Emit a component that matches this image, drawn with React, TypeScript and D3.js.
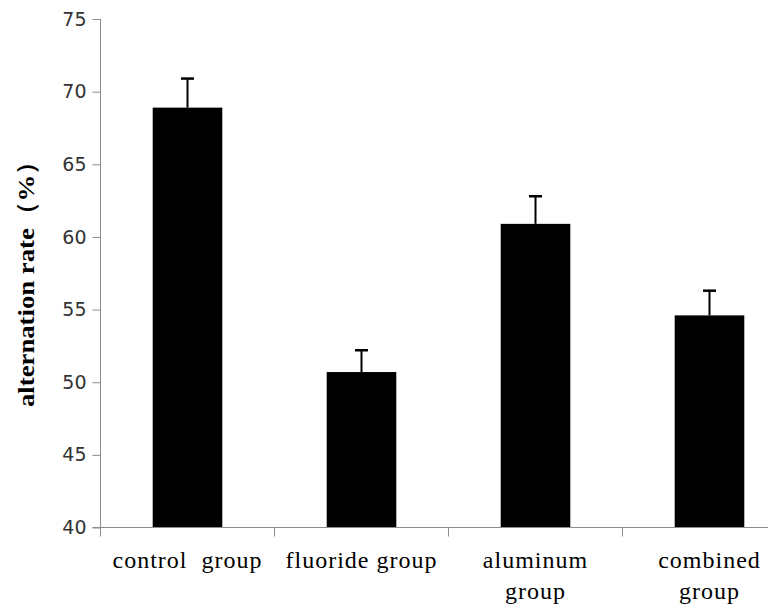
import React, { useEffect, useRef } from 'react';
import * as d3 from 'd3';

const categories = ['control group', 'fluoride group', 'aluminum group', 'combined group'];
const labelLines = [['control  group'], ['fluoride group'], ['aluminum', 'group'], ['combined', 'group']];
const means = [68.9, 50.7, 60.9, 54.6];
const errors = [2.0, 1.5, 1.9, 1.7];
const yTicks = [40, 45, 50, 55, 60, 65, 70, 75];

const App = () => {
    const ref = useRef<SVGSVGElement>(null);

    useEffect(() => {
        const svg = d3.select(ref.current);
        svg.selectAll('*').remove();

        const left = 100.5;
        const bottom = 527.5;
        const top = 19;
        const step = 174;

        const x = d3.scaleBand<string>()
            .domain(categories)
            .range([left, left + step * categories.length])
            .padding(0);

        const y = d3.scaleLinear()
            .domain([40, 75])
            .range([bottom, top]);

        const barW = x.bandwidth() * 0.4;
        const axisColor = '#8c8c8c';

        // Bars
        svg.selectAll('.bar')
            .data(categories)
            .enter()
            .append('rect')
            .attr('x', d => x(d)! + (x.bandwidth() - barW) / 2)
            .attr('y', (d, i) => y(means[i]))
            .attr('width', barW)
            .attr('height', (d, i) => bottom - y(means[i]))
            .attr('fill', '#000');

        // Error bars (upper only)
        categories.forEach((c, i) => {
            const cx = x(c)! + x.bandwidth() / 2;
            svg.append('line')
                .attr('x1', cx).attr('x2', cx)
                .attr('y1', y(means[i])).attr('y2', y(means[i] + errors[i]))
                .attr('stroke', '#000').attr('stroke-width', 2);
            svg.append('line')
                .attr('x1', cx - 6.5).attr('x2', cx + 6.5)
                .attr('y1', y(means[i] + errors[i])).attr('y2', y(means[i] + errors[i]))
                .attr('stroke', '#000').attr('stroke-width', 2.5);
        });

        // Y axis
        const yAxis = svg.append('g')
            .attr('transform', `translate(${left},0)`)
            .call(d3.axisLeft(y).tickValues(yTicks).tickSize(8).tickPadding(6).tickFormat(d3.format('d')));
        yAxis.select('.domain').attr('stroke', axisColor).attr('d', `M0,${top}V${bottom}`);
        yAxis.selectAll('.tick line').attr('stroke', axisColor);
        yAxis.selectAll('.tick text')
            .attr('fill', '#333')
            .style('font-family', '"DejaVu Sans", Verdana, sans-serif')
            .style('font-size', '19px');

        // X axis
        const xAxis = svg.append('g')
            .attr('transform', `translate(0,${bottom})`);
        xAxis.append('line')
            .attr('x1', left - 8).attr('x2', 768)
            .attr('stroke', axisColor);
        xAxis.selectAll('.xtick')
            .data(d3.range(categories.length))
            .enter()
            .append('line')
            .attr('x1', i => left + i * step).attr('x2', i => left + i * step)
            .attr('y1', 0).attr('y2', 9)
            .attr('stroke', axisColor);

        // Category labels
        categories.forEach((c, i) => {
            const t = svg.append('text')
                .attr('x', x(c)! + x.bandwidth() / 2)
                .attr('y', 568)
                .attr('text-anchor', 'middle')
                .style('font-family', '"Liberation Serif", "Times New Roman", serif')
                .style('font-size', '24px')
                .style('letter-spacing', '1px')
                .style('white-space', 'pre')
                .attr('fill', '#000');
            labelLines[i].forEach((line, j) => {
                t.append('tspan')
                    .attr('x', x(c)! + x.bandwidth() / 2)
                    .attr('dy', j === 0 ? 0 : 31)
                    .text(line);
            });
        });

        // Y axis title
        svg.append('text')
            .attr('transform', 'rotate(-90)')
            .attr('x', -(148 + 407) / 2)
            .attr('y', 34)
            .attr('text-anchor', 'middle')
            .attr('textLength', 259)
            .attr('lengthAdjust', 'spacingAndGlyphs')
            .style('font-family', '"Liberation Serif", "Times New Roman", serif')
            .style('font-size', '24px')
            .style('font-weight', 'bold')
            .attr('fill', '#000')
            .text('alternation rate（%）');
    }, []);

    return (
        <svg ref={ref} width={768} height={610}
            style={{ position: 'absolute', left: 0, top: 0, background: '#fff' }} />
    );
};

export default App;
